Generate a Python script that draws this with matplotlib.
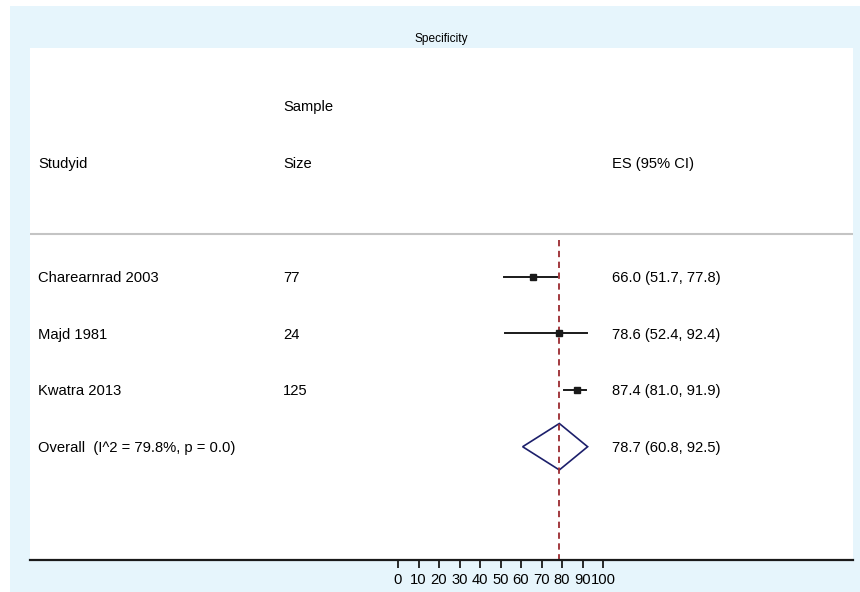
import matplotlib.pyplot as plt
from matplotlib.patches import Rectangle, Polygon

plt.rcParams['font.family'] = ['Liberation Sans', 'DejaVu Sans']

# data
studies = ['Charearnrad 2003', 'Majd 1981', 'Kwatra 2013']
sizes = ['77', '24', '125']
es = [66.0, 78.6, 87.4]
lo = [51.7, 52.4, 81.0]
hi = [77.8, 92.4, 91.9]
overall_es = 78.7
overall_lo = 60.8
overall_hi = 92.5
overall_label = 'Overall  (I^2 = 79.8%, p = 0.0)'
ticks = [0, 10, 20, 30, 40, 50, 60, 70, 80, 90, 100]

W, H = 860, 592
fs = 10.6
fig = plt.figure(figsize=(W / 100, H / 100), dpi=100)
fig.patch.set_facecolor('white')

# light blue frame, behind the axes
bg = Rectangle((10 / W, 0), 1 - 10 / W, 1 - 6 / H,
               transform=fig.transFigure, facecolor='#e6f5fc',
               edgecolor='none', zorder=-5)
fig.add_artist(bg)
fig.text(441 / W, 1 - 39 / H, 'Specificity', ha='center', va='center', fontsize=8.6)

# plot panel: 30..853 px wide, 48..560 px tall
ax = fig.add_axes([30 / W, 1 - 560 / H, 823 / W, 512 / H])
ax.set_zorder(2)
ax.set_facecolor('white')
ax.set_xlim((30 - 398) / 2.05, (853 - 398) / 2.05)
ax.set_ylim(6, -3.04)
for s in ['top', 'left', 'right']:
    ax.spines[s].set_visible(False)
ax.spines['bottom'].set_linewidth(1.6)
ax.spines['bottom'].set_color('#1a1a1a')
ax.set_xticks(ticks)
ax.set_xticklabels([str(t) for t in ticks])
ax.tick_params(axis='x', length=6, width=1.3, color='#1a1a1a', labelsize=fs, pad=3)
ax.set_yticks([])

x_name = (38 - 398) / 2.05
x_size = (283 - 398) / 2.05
x_es = (612 - 398) / 2.05

# headers
ax.text(x_size, -2, 'Sample', va='center', fontsize=fs)
ax.text(x_name, -1, 'Studyid', va='center', fontsize=fs)
ax.text(x_size, -1, 'Size', va='center', fontsize=fs)
ax.text(x_es, -1, 'ES (95% CI)', va='center', fontsize=fs)
ax.axhline(0.24, color='#c4c4c4', lw=1.5)

rows = list(range(1, len(studies) + 1))
for r, name, n, e, l, h in zip(rows, studies, sizes, es, lo, hi):
    ax.plot([l, h], [r, r], color='#1a1a1a', lw=1.4)
    ax.plot(e, r, marker='s', ms=4.5, color='#1a1a1a')
    ax.text(x_name, r + 0.02, name, va='center', fontsize=fs)
    ax.text(x_size, r + 0.02, n, va='center', fontsize=fs)
    ax.text(x_es, r + 0.02, f'{e:.1f} ({l:.1f}, {h:.1f})', va='center', fontsize=fs)

r_all = len(studies) + 1
diamond = Polygon([[overall_lo, r_all], [overall_es, r_all - 0.41],
                   [overall_hi, r_all], [overall_es, r_all + 0.41]],
                  closed=True, facecolor='none', edgecolor='#1c1f6b', lw=1.2)
ax.add_patch(diamond)
ax.text(x_name, r_all + 0.02, overall_label, va='center', fontsize=fs)
ax.text(x_es, r_all + 0.02, f'{overall_es:.1f} ({overall_lo:.1f}, {overall_hi:.1f})',
        va='center', fontsize=fs)

ax.plot([overall_es, overall_es], [0.35, 6], color='#9b2a2f', lw=1.3,
        ls=(0, (3.5, 2.5)), zorder=1)

fig.savefig('out.png', dpi=100)
